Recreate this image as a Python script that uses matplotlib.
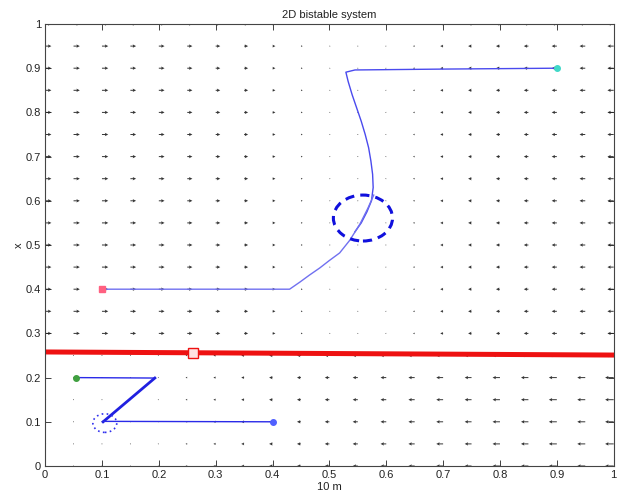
import numpy as np
import matplotlib
matplotlib.use('Agg')
import matplotlib.pyplot as plt
from matplotlib.patches import Ellipse

plt.rcParams['font.family'] = ['Liberation Sans', 'DejaVu Sans']

# grid of the direction field (both axes 0..1, step 0.05)
grid = np.linspace(0, 1, 21)
border = 0.255   # rows below this use the lower field

# horizontal arrow component per column
u_lower = [0.002, 0.001, 0.0, -0.001, -0.002, -0.003, -0.004, -0.005, -0.006, -0.007, -0.008,
           -0.009, -0.010, -0.011, -0.012, -0.012, -0.013, -0.013, -0.014, -0.014, -0.015]
u_upper = [0.011, 0.011, 0.011, 0.010, 0.010, 0.009, 0.008, 0.007, 0.005, 0.003, 0.002,
           0.0, -0.002, -0.003, -0.005, -0.006, -0.007, -0.008, -0.009, -0.010, -0.011]

# trajectories
traj_a_m = [0.90, 0.70, 0.545, 0.529, 0.533, 0.540, 0.548, 0.556, 0.563, 0.569, 0.573,
            0.576, 0.577, 0.574, 0.566, 0.556, 0.545]
traj_a_x = [0.90, 0.898, 0.896, 0.891, 0.870, 0.840, 0.810, 0.780, 0.750, 0.720, 0.690,
            0.660, 0.630, 0.600, 0.575, 0.550, 0.530]
traj_b_m = [0.10, 0.30, 0.430, 0.448, 0.465, 0.483, 0.500, 0.518, 0.536, 0.554, 0.568, 0.578]
traj_b_x = [0.40, 0.40, 0.400, 0.416, 0.432, 0.448, 0.465, 0.482, 0.511, 0.548, 0.584, 0.613]
traj_c_m = [0.055, 0.193, 0.102]
traj_c_x = [0.200, 0.199, 0.100]
traj_d_m = [0.40, 0.102]
traj_d_x = [0.10, 0.101]

# separatrix (red line) and its marker
sep_m = [0.0, 1.0]
sep_x = [0.258, 0.251]
sep_mark = (0.26, 0.256)

# fixed points
fp_high = (0.559, 0.561)
fp_low = (0.105, 0.097)

fig = plt.figure(figsize=(6.18, 5.0), dpi=100)
ax = fig.add_axes([0.073, 0.068, 0.920, 0.884])

M, X = np.meshgrid(grid, grid)
U = np.where(X < border, np.array(u_lower)[None, :], np.array(u_upper)[None, :])
V = np.zeros_like(U)
ax.quiver(M, X, U, V, angles='xy', scale_units='xy', scale=1, color='#333333',
          width=0.0017, headwidth=3.5, headlength=3.5, headaxislength=3.0, zorder=1)

ax.plot(traj_a_m, traj_a_x, color='#4a4aee', lw=1.0, zorder=3)
ax.plot(traj_b_m, traj_b_x, color='#7070f0', lw=1.0, zorder=3)
ax.plot(traj_c_m[:2], traj_c_x[:2], color='#2a2ae8', lw=1.0, zorder=3)
ax.plot(traj_c_m[1:], traj_c_x[1:], color='#2020e0', lw=2.0, zorder=3)
ax.plot(traj_d_m, traj_d_x, color='#2a2ae8', lw=1.0, zorder=3)

ax.plot(traj_a_m[0], traj_a_x[0], 'o', ms=4, color='#40d8c8', zorder=4)
ax.plot(traj_b_m[0], traj_b_x[0], 's', ms=4, color='#ff6080', zorder=4)
ax.plot(traj_c_m[0], traj_c_x[0], 'o', ms=4, color='#40a040', zorder=4)
ax.plot(traj_d_m[0], traj_d_x[0], 'o', ms=4, color='#5060ff', zorder=4)

ax.plot(sep_m, sep_x, color='#ee1111', lw=3.6, zorder=2)
ax.plot(*sep_mark, 's', ms=7, mfc='#ffe0e0', mec='#ee1111', mew=1.0, zorder=5)

ax.add_patch(Ellipse(fp_high, 0.104, 0.104, fill=False, ec='#1010dd', lw=2.2,
                     ls=(0, (3, 2)), zorder=4))
ax.add_patch(Ellipse(fp_low, 0.042, 0.042, fill=False, ec='#3030ee', lw=1.2,
                     ls=(0, (1, 2)), zorder=4))

ax.set_xlim(0, 1)
ax.set_ylim(0, 1)
ax.set_xticks(np.linspace(0, 1, 11))
ax.set_yticks(np.linspace(0, 1, 11))
ax.set_xticklabels(['0', '0.1', '0.2', '0.3', '0.4', '0.5', '0.6', '0.7', '0.8', '0.9', '1'])
ax.set_yticklabels(['0', '0.1', '0.2', '0.3', '0.4', '0.5', '0.6', '0.7', '0.8', '0.9', '1'])
ax.tick_params(direction='in', top=True, right=True, length=4, width=0.6,
               labelsize=8, colors='#222222', pad=3)
for s in ax.spines.values():
    s.set_color('#444444')
    s.set_linewidth(0.8)

ax.set_title('2D bistable system', fontsize=8, color='#222222', pad=4)
ax.set_xlabel('10 m', fontsize=8, color='#222222', labelpad=1)
ax.set_ylabel('x', fontsize=8, color='#222222', labelpad=1)

fig.savefig('out.png', dpi=100)
